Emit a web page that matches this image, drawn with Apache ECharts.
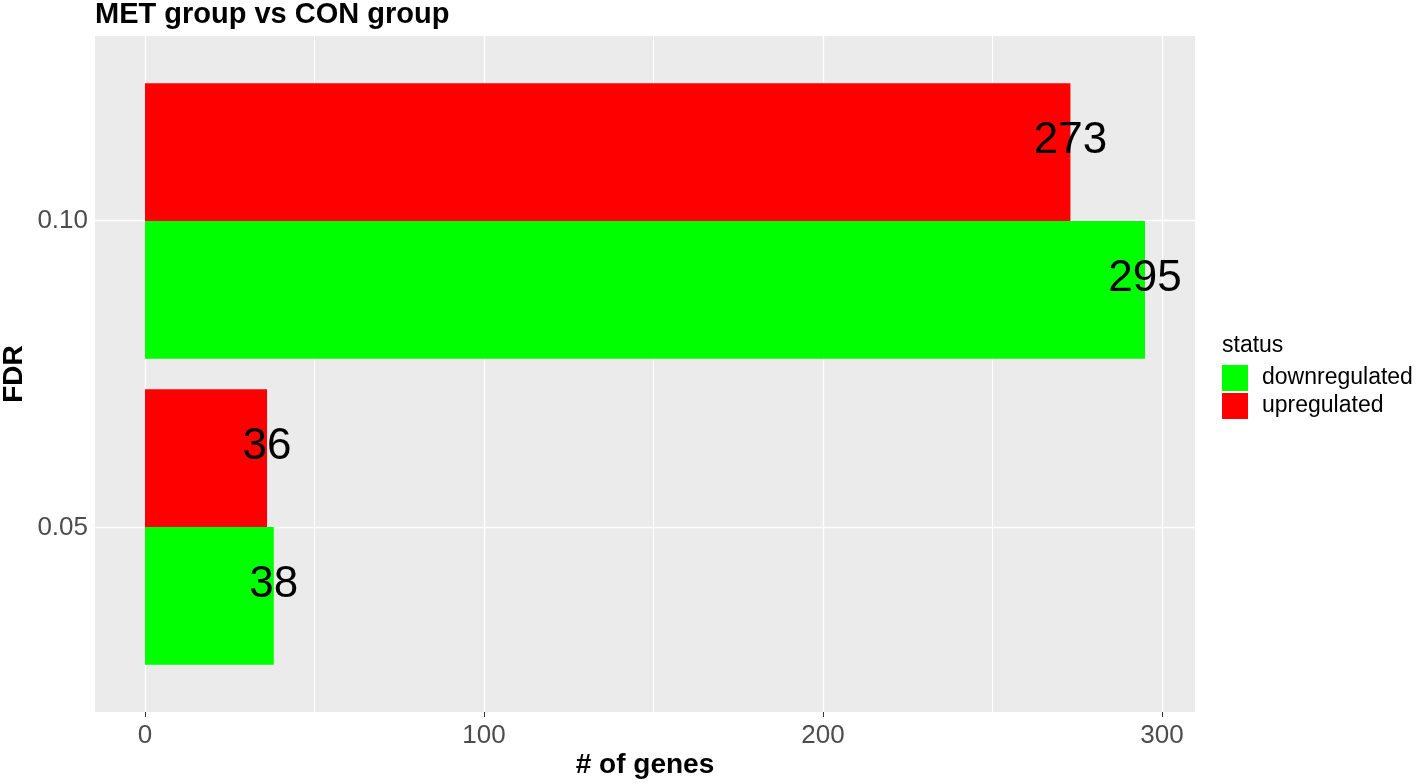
<!DOCTYPE html>
<html>
<head>
<meta charset="utf-8">
<script src="https://cdn.jsdelivr.net/npm/echarts@6/dist/echarts.min.js"></script>
<style>
  html, body { margin: 0; padding: 0; background: #fff; }
  #chart { width: 1418px; height: 784px; }
</style>
</head>
<body>
<div id="chart"></div>
<script>
// data
var fdrLevels = ['0.05', '0.10'];
var downCounts = [38, 295];
var upCounts = [36, 273];
var statusNames = ['downregulated', 'upregulated'];
var statusColors = ['#00FF00', '#FF0000'];
var xMajorTicks = [0, 100, 200, 300];
var xMinorTicks = [50, 150, 250];

// y positions of the categories on the full-panel value axis (1, 2, ...)
var yTickValues = fdrLevels.map(function (d, i) { return i + 1; });

var FONT = 'Liberation Sans';
var xMin = -14.75, xMax = 309.75;

var gridLines = [];
xMajorTicks.forEach(function (v) {
  gridLines.push({ xAxis: v, lineStyle: { width: 1.4 } });
});
xMinorTicks.forEach(function (v) {
  gridLines.push({ xAxis: v, lineStyle: { width: 1 } });
});
yTickValues.forEach(function (v) {
  gridLines.push({ yAxis: v, lineStyle: { width: 1.4 } });
});

var chart = echarts.init(document.getElementById('chart'), null, { renderer: 'canvas' });

var barLabel = {
  show: true,
  position: ['100%', '50%'],
  align: 'center',
  verticalAlign: 'middle',
  offset: [0, -11],
  fontSize: 44,
  color: '#000',
  fontFamily: FONT,
  textBorderWidth: 0
};

var option = {
  animation: false,
  textStyle: { fontFamily: FONT },
  title: [
    {
      text: 'MET group vs CON group',
      left: 95, top: 0, padding: 0,
      textStyle: { fontSize: 29, fontWeight: 'bold', color: '#000', fontFamily: FONT }
    },
    {
      text: 'status',
      left: 1222, top: 334, padding: 0,
      textStyle: { fontSize: 23, fontWeight: 'normal', color: '#000', fontFamily: FONT }
    }
  ],
  legend: {
    data: statusNames,
    orient: 'vertical',
    left: 1222, top: 365, padding: 0,
    itemWidth: 26, itemHeight: 26, itemGap: 2,
    icon: 'rect',
    textStyle: { fontSize: 23, color: '#000', fontFamily: FONT, padding: [0, 0, 0, 9] }
  },
  grid: [
    // full panel: background, gridlines, axes
    { left: 95, top: 36, width: 1100, height: 676, show: true, backgroundColor: '#EBEBEB', borderWidth: 0,
      containLabel: false, outerBoundsMode: 'none' },
    // bar panel: category bands centred on the same rows
    { left: 95, top: 68, width: 1100, height: 612, show: false,
      containLabel: false, outerBoundsMode: 'none' }
  ],
  xAxis: [
    {
      gridIndex: 0, type: 'value', min: xMin, max: xMax,
      axisLine: { show: false },
      splitLine: { show: false },
      axisTick: { show: true, customValues: xMajorTicks, length: 5, lineStyle: { color: '#333', width: 1 } },
      axisLabel: { customValues: xMajorTicks, fontSize: 26, color: '#4D4D4D', margin: 11 },
      name: '# of genes', nameLocation: 'middle', nameGap: 39, nameMoveOverlap: false,
      nameTextStyle: { fontSize: 28, fontWeight: 'bold', color: '#000', fontFamily: FONT }
    },
    {
      gridIndex: 1, type: 'value', min: xMin, max: xMax, show: false
    }
  ],
  yAxis: [
    {
      gridIndex: 0, type: 'value', min: 0.4, max: 2.6,
      axisLine: { show: false },
      splitLine: { show: false },
      axisTick: { show: true, customValues: yTickValues, length: 5, lineStyle: { color: '#333', width: 1 } },
      axisLabel: {
        customValues: yTickValues, fontSize: 26, color: '#4D4D4D', margin: 7,
        formatter: function (v) { return fdrLevels[Math.round(v) - 1]; }
      },
      name: 'FDR', nameLocation: 'middle', nameGap: 67, nameRotate: 90, nameMoveOverlap: false,
      nameTextStyle: { fontSize: 28, fontWeight: 'bold', color: '#000', fontFamily: FONT }
    },
    {
      gridIndex: 1, type: 'category', data: fdrLevels, show: false
    }
  ],
  series: [
    {
      name: 'gridlines', type: 'line', xAxisIndex: 0, yAxisIndex: 0, data: [],
      z: 1, silent: true,
      markLine: {
        silent: true, symbol: 'none', label: { show: false }, z: 1,
        lineStyle: { color: '#FFFFFF', type: 'solid' },
        data: gridLines
      }
    },
    // first bar series sits on top of each band in a horizontal layout
    {
      name: statusNames[1], type: 'bar', xAxisIndex: 1, yAxisIndex: 1,
      data: upCounts, barGap: '0%', barCategoryGap: '10%',
      itemStyle: { color: statusColors[1] }, z: 3, label: barLabel
    },
    {
      name: statusNames[0], type: 'bar', xAxisIndex: 1, yAxisIndex: 1,
      data: downCounts, barGap: '0%', barCategoryGap: '10%',
      itemStyle: { color: statusColors[0] }, z: 3, label: barLabel
    }
  ]
};

chart.setOption(option);
</script>
</body>
</html>
